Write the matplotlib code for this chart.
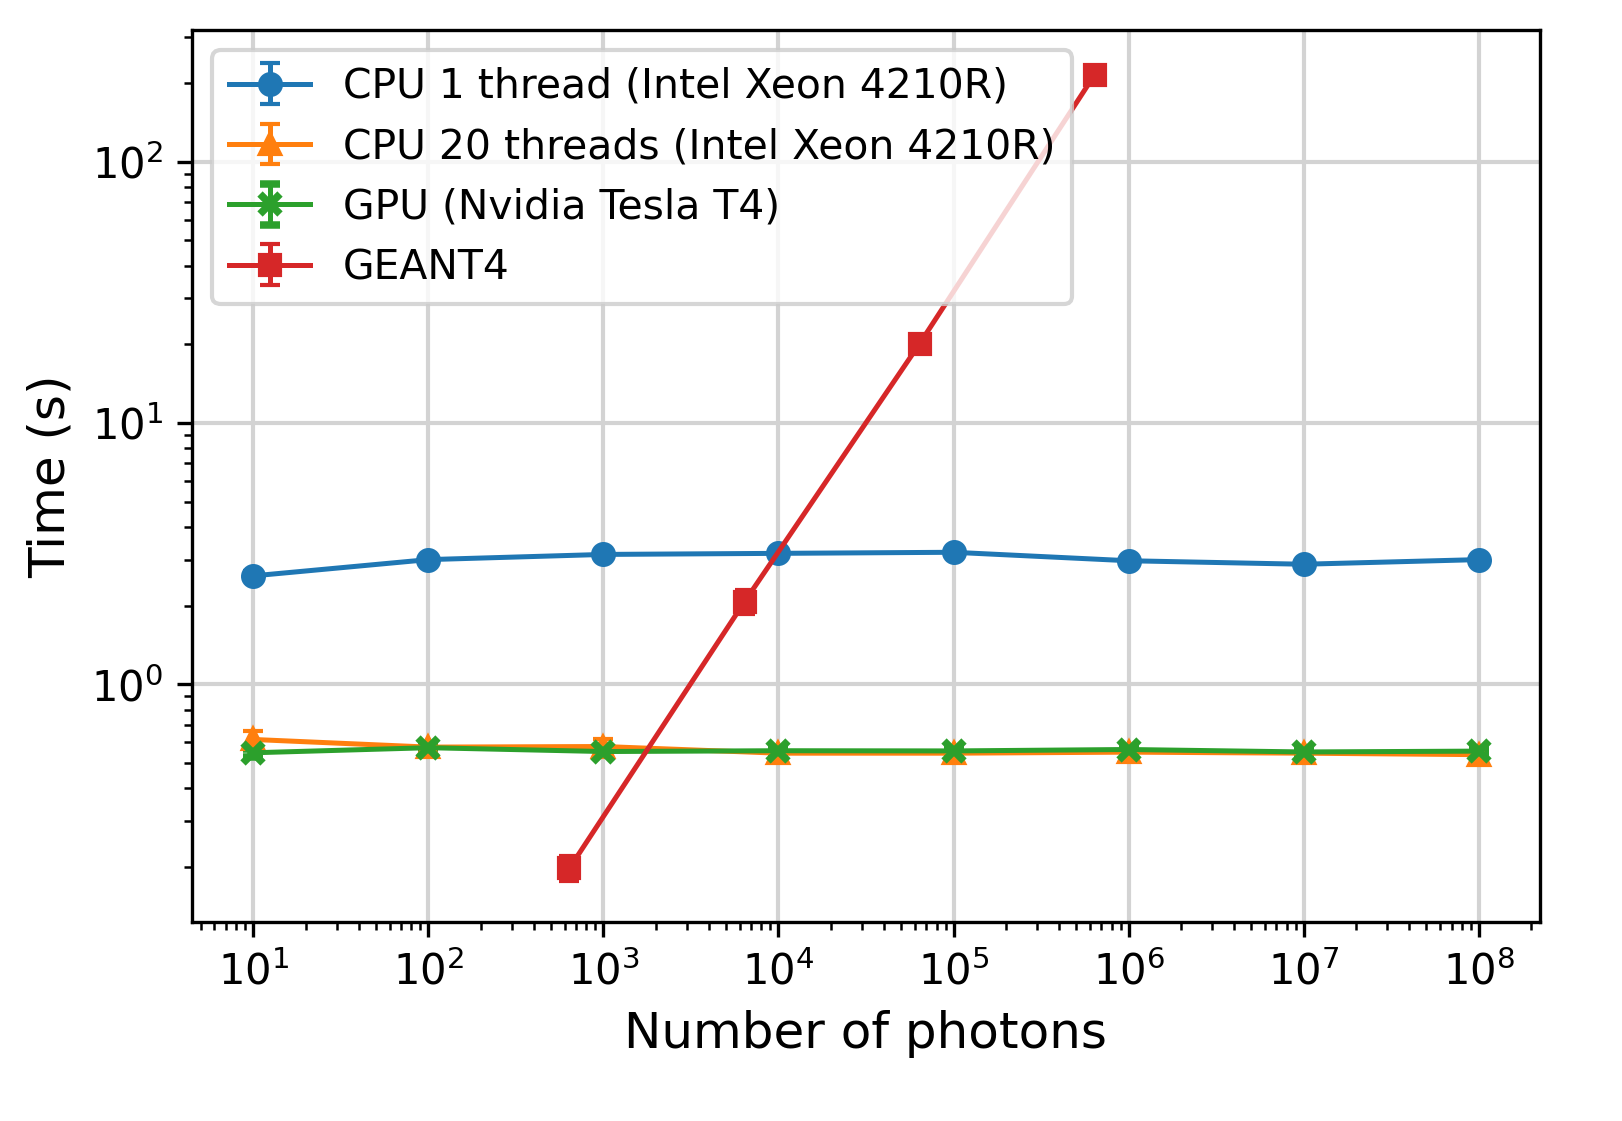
import matplotlib
matplotlib.use("Agg")
import matplotlib.pyplot as plt
import numpy as np

# Antal fotoner (x-akse)
photons = [1e1, 1e2, 1e3, 1e4, 1e5, 1e6, 1e7, 1e8]

cpu1_time = [2.60, 3.00, 3.14, 3.17, 3.20, 2.97, 2.88, 3.00]
cpu1_err = [0.12, 0.05, 0.12, 0.05, 0.04, 0.04, 0.04, 0.04]

cpu20_time = [0.615, 0.575, 0.578, 0.545, 0.545, 0.550, 0.545, 0.538]
cpu20_err = [0.05, 0.015, 0.04, 0.01, 0.01, 0.01, 0.01, 0.01]

gpu_time = [0.547, 0.572, 0.553, 0.557, 0.556, 0.563, 0.551, 0.555]
gpu_err = [0.02, 0.015, 0.01, 0.01, 0.01, 0.01, 0.01, 0.01]

geant_photons = [640, 6400, 64000, 640000]
geant_time = [0.198, 2.07, 20.1, 215]
geant_err = [0.022, 0.22, 1.0, 8.0]

fig = plt.figure(figsize=(1622 / 300, 1121 / 300), dpi=300)
ax = fig.add_axes([0.1184, 0.1775, 0.8310, 0.7957])

style = dict(capsize=2.5, markersize=5, linewidth=1.2, elinewidth=1.2)
ax.errorbar(photons, cpu1_time, yerr=cpu1_err, marker="o",
            label="CPU 1 thread (Intel Xeon 4210R)", **style)
ax.errorbar(photons, cpu20_time, yerr=cpu20_err, marker="^",
            label="CPU 20 threads (Intel Xeon 4210R)", **style)
ax.errorbar(photons, gpu_time, yerr=gpu_err, marker="x", markeredgewidth=1.8,
            label="GPU (Nvidia Tesla T4)", **style)
ax.errorbar(geant_photons, geant_time, yerr=geant_err, marker="s",
            label="GEANT4", **style)

ax.set_xscale("log")
ax.set_yscale("log")
ax.grid(True, color="lightgray", linewidth=1)
ax.set_axisbelow(True)
ax.set_xticks(photons)
ax.tick_params(labelsize=10)

ax.set_xlabel("Number of photons", fontsize=12)
ax.set_ylabel("Time (s)", fontsize=12)
ax.legend(loc="upper left", fontsize=9.8)

fig.savefig("out.png", dpi=300)
